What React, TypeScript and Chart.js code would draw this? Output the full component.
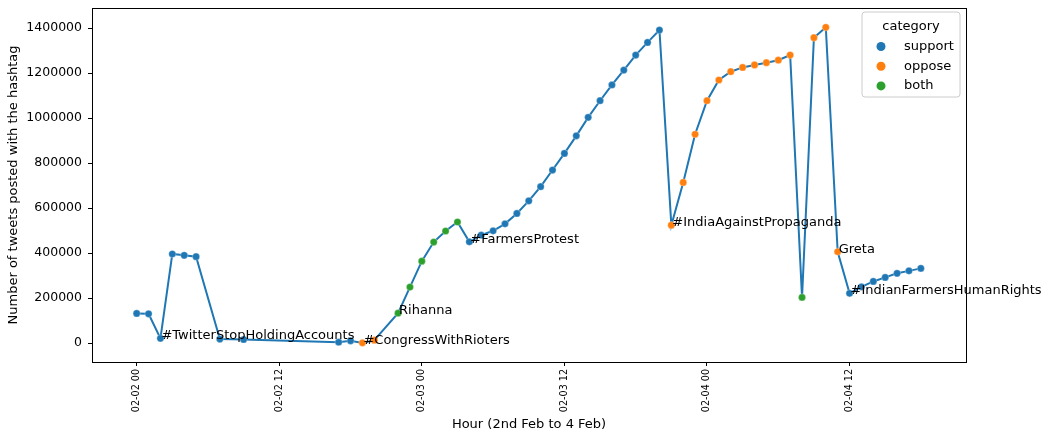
import { useEffect, useRef } from "react";
import { Chart, registerables } from "chart.js";

Chart.register(...registerables);

// Hours since 2021-02-02 00:00
const hours = [0, 1, 2, 3, 4, 5, 7, 9, 17, 18, 19, 20, 22, 23, 24, 25, 26, 27, 28, 29, 30, 31, 32, 33, 34, 35, 36, 37, 38, 39, 40, 41, 42, 43, 44, 45, 46, 47, 48, 49, 50, 51, 52, 53, 54, 55, 56, 57, 58, 59, 60, 61, 62, 63, 64, 65, 66];
const tweetCounts = [132000, 130000, 21000, 396000, 390000, 384000, 18000, 16000, 4000, 10000, 1000, 13000, 133000, 249000, 364000, 449000, 498000, 538000, 450000, 480000, 499000, 530000, 576000, 632000, 695000, 769000, 843000, 921000, 1003000, 1077000, 1147000, 1213000, 1280000, 1336000, 1391000, 524000, 714000, 928000, 1077000, 1169000, 1206000, 1225000, 1236000, 1246000, 1257000, 1280000, 203000, 1357000, 1403000, 406000, 221000, 250000, 274000, 292000, 310000, 321000, 332000];
const categoryOf = [
  "support", "support", "support", "support", "support", "support", "support", "support", "support", "support",
  "oppose", "oppose",
  "both", "both", "both", "both", "both", "both",
  "support", "support", "support", "support", "support", "support", "support", "support", "support", "support", "support", "support", "support", "support", "support", "support", "support",
  "oppose", "oppose", "oppose", "oppose", "oppose", "oppose", "oppose", "oppose", "oppose", "oppose", "oppose",
  "both",
  "oppose", "oppose", "oppose",
  "support", "support", "support", "support", "support", "support", "support",
];

const categories = ["support", "oppose", "both"];
const categoryColors = ["#1f77b4", "#ff7f0e", "#2ca02c"];

const annotationHours = [2, 19, 22, 28, 45, 59, 60];
const annotationTexts = ["#TwitterStopHoldingAccounts", "#CongressWithRioters", "Rihanna", "#FarmersProtest", "#IndiaAgainstPropaganda", "Greta", "#IndianFarmersHumanRights"];

const xTickHours = [0, 12, 24, 36, 48, 60];
const xTickLabels = ["02-02 00", "02-02 12", "02-03 00", "02-03 12", "02-04 00", "02-04 12"];

const FONT = "'DejaVu Sans', sans-serif";

export default function App() {
  const ref = useRef<HTMLCanvasElement | null>(null);

  useEffect(() => {
    const canvas = ref.current;
    if (!canvas) return;

    const lineData = hours.map((h, i) => ({ x: h, y: tweetCounts[i] }));
    const scatterSets = categories.map((c, ci) => ({
      type: "scatter" as const,
      label: c,
      data: hours
        .map((h, i) => ({ x: h, y: tweetCounts[i], c: categoryOf[i] }))
        .filter((p) => p.c === c)
        .map((p) => ({ x: p.x, y: p.y })),
      backgroundColor: categoryColors[ci],
      borderColor: "rgba(255,255,255,0.6)",
      borderWidth: 0.5,
      pointRadius: 3.6,
      pointHoverRadius: 3.6,
      showLine: false,
      order: 0,
    }));

    const framePlugin = {
      id: "frame",
      afterDraw(chart: any) {
        const { ctx, chartArea } = chart;
        ctx.save();
        ctx.strokeStyle = "#000";
        ctx.lineWidth = 1;
        ctx.strokeRect(
          Math.round(chartArea.left) + 0.5,
          Math.round(chartArea.top) + 0.5,
          Math.round(chartArea.right - chartArea.left),
          Math.round(chartArea.bottom - chartArea.top)
        );
        ctx.restore();
      },
    };

    const annotationPlugin = {
      id: "annotations",
      afterDatasetsDraw(chart: any) {
        const { ctx, scales } = chart;
        ctx.save();
        ctx.font = `13px ${FONT}`;
        ctx.fillStyle = "#000";
        ctx.textAlign = "left";
        ctx.textBaseline = "alphabetic";
        annotationHours.forEach((h, k) => {
          const idx = hours.indexOf(h);
          const px = scales.x.getPixelForValue(h);
          const py = scales.y.getPixelForValue(tweetCounts[idx]);
          ctx.fillText(annotationTexts[k], px + 1, py + 1);
        });
        ctx.restore();
      },
    };

    const legendPlugin = {
      id: "customLegend",
      afterDraw(chart: any) {
        const { ctx, chartArea } = chart;
        const boxW = 98;
        const boxH = 85;
        const x0 = chartArea.right - 6 - boxW;
        const y0 = chartArea.top + 4;
        ctx.save();
        ctx.fillStyle = "rgba(255,255,255,0.8)";
        ctx.strokeStyle = "#cccccc";
        ctx.lineWidth = 1;
        ctx.beginPath();
        const r = 3;
        ctx.moveTo(x0 + r, y0);
        ctx.arcTo(x0 + boxW, y0, x0 + boxW, y0 + boxH, r);
        ctx.arcTo(x0 + boxW, y0 + boxH, x0, y0 + boxH, r);
        ctx.arcTo(x0, y0 + boxH, x0, y0, r);
        ctx.arcTo(x0, y0, x0 + boxW, y0, r);
        ctx.closePath();
        ctx.fill();
        ctx.stroke();
        ctx.font = `13px ${FONT}`;
        ctx.fillStyle = "#000";
        ctx.textBaseline = "middle";
        ctx.textAlign = "center";
        ctx.fillText("category", x0 + boxW / 2, y0 + 15);
        ctx.textAlign = "left";
        categories.forEach((c, i) => {
          const cy = y0 + 34.5 + i * 19.7;
          ctx.beginPath();
          ctx.fillStyle = categoryColors[i];
          ctx.arc(x0 + 19, cy, 4.5, 0, Math.PI * 2);
          ctx.fill();
          ctx.fillStyle = "#000";
          ctx.fillText(c, x0 + 42, cy);
        });
        ctx.restore();
      },
    };

    const chart = new Chart(canvas, {
      type: "scatter",
      data: {
        datasets: [
          ...scatterSets,
          {
            type: "line" as const,
            label: "line",
            data: lineData,
            borderColor: "#1f77b4",
            borderWidth: 2,
            pointRadius: 0,
            pointHoverRadius: 0,
            fill: false,
            tension: 0,
            order: 10,
          },
        ],
      } as any,
      options: {
        animation: false,
        responsive: false,
        devicePixelRatio: 1,
        events: [],
        layout: { padding: { top: 8, right: 87, left: 0, bottom: 0 } },
        plugins: {
          legend: { display: false },
          tooltip: { enabled: false },
        },
        scales: {
          x: {
            type: "linear",
            min: -3.76,
            max: 69.8,
            afterFit(scale: any) {
              scale.height = 74;
              scale.paddingLeft = 0;
              scale.paddingRight = 0;
            },
            afterBuildTicks(scale: any) {
              scale.ticks = xTickHours.map((v) => ({ value: v }));
            },
            ticks: {
              autoSkip: false,
              maxRotation: 90,
              minRotation: 90,
              padding: 3,
              color: "#000",
              font: { family: FONT, size: 9.6 },
              callback: (v: any) => {
                const i = xTickHours.indexOf(Number(v));
                return i >= 0 ? xTickLabels[i] : "";
              },
            },
            grid: {
              display: true,
              drawOnChartArea: false,
              drawTicks: true,
              tickLength: 4,
              color: "#000",
              lineWidth: 1,
            },
            border: { display: false },
            title: {
              display: true,
              text: "Hour (2nd Feb to 4 Feb)",
              color: "#000",
              font: { family: FONT, size: 13 },
              padding: { top: 0, bottom: 4 },
            },
          },
          y: {
            type: "linear",
            min: -84000,
            max: 1489000,
            afterFit(scale: any) {
              scale.width = 92;
              scale.paddingTop = 0;
              scale.paddingBottom = 0;
            },
            afterBuildTicks(scale: any) {
              const t = [];
              for (let v = 0; v <= 1400000; v += 200000) t.push({ value: v });
              scale.ticks = t;
            },
            ticks: {
              padding: 6,
              color: "#000",
              font: { family: FONT, size: 12.5 },
              callback: (v: any) => String(v),
            },
            grid: {
              display: true,
              drawOnChartArea: false,
              drawTicks: true,
              tickLength: 4,
              color: "#000",
              lineWidth: 1,
            },
            border: { display: false },
            title: {
              display: true,
              text: "Number of tweets posted with the hashtag",
              color: "#000",
              font: { family: FONT, size: 13 },
              padding: { top: 6, bottom: 0 },
            },
          },
        },
      },
      plugins: [framePlugin, annotationPlugin, legendPlugin],
    });

    return () => chart.destroy();
  }, []);

  return (
    <div style={{ position: "absolute", left: 0, top: 0, width: 1053, height: 436, background: "#fff" }}>
      <canvas ref={ref} width={1053} height={436} />
    </div>
  );
}
